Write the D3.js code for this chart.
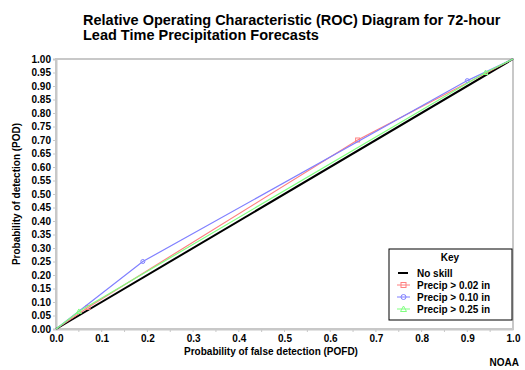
<!DOCTYPE html>
<html>
<head>
<meta charset="utf-8">
<script src="https://cdn.jsdelivr.net/npm/d3@7"></script>
<style>
  body { margin: 0; background: #fff; }
  svg { font-family: Arial, "Liberation Sans", sans-serif; }
  text { font-weight: bold; fill: #000; }
</style>
</head>
<body>
<div id="vis"></div>
<script>
// ROC points
const noSkillX = [0, 1];
const noSkillY = [0, 1];
const p02X = [0, 0.07, 0.66, 1];
const p02Y = [0, 0.08, 0.70, 1];
const p10X = [0, 0.19, 0.90, 1];
const p10Y = [0, 0.25, 0.92, 1];
const p25X = [0, 0.05, 0.94, 1];
const p25Y = [0, 0.065, 0.95, 1];
const xTicks = d3.range(0, 11).map(i => i / 10);
const yTicks = d3.range(0, 21).map(i => i / 20);

const series = [
  { name: "Precip > 0.02 in", xs: p02X, ys: p02Y, color: "#ff8080", marker: "square" },
  { name: "Precip > 0.10 in", xs: p10X, ys: p10Y, color: "#8080ff", marker: "circle" },
  { name: "Precip > 0.25 in", xs: p25X, ys: p25Y, color: "#80ff80", marker: "triangle" }
];

const W = 525, H = 370;
const margin = { top: 59, right: 12, bottom: 41, left: 56 };
const width = W - margin.left - margin.right;
const height = H - margin.top - margin.bottom;

const svg = d3.select("#vis").append("svg")
  .attr("width", W)
  .attr("height", H);

// title
svg.append("text").attr("x", 83).attr("y", 25)
  .style("font-size", "14.5px")
  .text("Relative Operating Characteristic (ROC) Diagram for 72-hour");
svg.append("text").attr("x", 83).attr("y", 40)
  .style("font-size", "14.5px")
  .text("Lead Time Precipitation Forecasts");

const g = svg.append("g")
  .attr("transform", `translate(${margin.left},${margin.top})`);

const x = d3.scaleLinear().domain([0, 1]).range([0, width]);
const y = d3.scaleLinear().domain([0, 1]).range([height, 0]);

// frame
g.append("rect")
  .attr("x", 0).attr("y", 0)
  .attr("width", width).attr("height", height)
  .attr("fill", "none")
  .attr("stroke", "#c8c8c8")
  .attr("stroke-width", 2);

// x axis
const xAxis = g.append("g")
  .attr("transform", `translate(0,${height})`)
  .call(d3.axisBottom(x).tickValues(xTicks).tickFormat(d3.format(".1f")).tickSize(0).tickPadding(6));
xAxis.select(".domain").attr("stroke", "#c8c8c8").attr("stroke-width", 2);
xAxis.selectAll("text").style("font-size", "10px").style("font-weight", "bold");

// minor grey ticks on x
g.append("g").selectAll("line")
  .data(d3.range(0, 20).map(i => i / 20 + 0.05).filter(v => v < 1))
  .enter().append("line")
  .attr("x1", d => x(d)).attr("x2", d => x(d))
  .attr("y1", height).attr("y2", height + 3)
  .attr("stroke", "#c8c8c8");

// y axis
const yAxis = g.append("g")
  .call(d3.axisLeft(y).tickValues(yTicks).tickFormat(d3.format(".2f")).tickSize(3).tickPadding(2));
yAxis.select(".domain").attr("stroke", "#c8c8c8").attr("stroke-width", 2);
yAxis.selectAll(".tick line").attr("stroke", "#c8c8c8");
yAxis.selectAll("text").style("font-size", "10px").style("font-weight", "bold");

// axis titles
svg.append("text")
  .attr("x", 271).attr("y", 355)
  .attr("text-anchor", "middle")
  .style("font-size", "10px")
  .text("Probability of false detection (POFD)");
svg.append("text")
  .attr("transform", `translate(20,${margin.top + height / 2}) rotate(-90)`)
  .attr("text-anchor", "middle")
  .style("font-size", "10px")
  .text("Probability of detection (POD)");

svg.append("text")
  .attr("x", 519).attr("y", 366)
  .attr("text-anchor", "end")
  .style("font-size", "10px")
  .text("NOAA");

const line = d3.line().x(d => x(d[0])).y(d => y(d[1]));

function drawMarker(sel, type, color, cx, cy, r) {
  if (type === "square") {
    sel.append("rect").attr("x", cx - r).attr("y", cy - r)
      .attr("width", 2 * r).attr("height", 2 * r)
      .attr("fill", "none").attr("stroke", color);
  } else if (type === "circle") {
    sel.append("circle").attr("cx", cx).attr("cy", cy).attr("r", r)
      .attr("fill", "none").attr("stroke", color);
  } else {
    sel.append("path")
      .attr("d", `M${cx},${cy - r - 0.5}L${cx + r + 0.5},${cy + r}L${cx - r - 0.5},${cy + r}Z`)
      .attr("fill", "none").attr("stroke", color);
  }
}

// no skill line
g.append("path")
  .datum(d3.zip(noSkillX, noSkillY))
  .attr("fill", "none")
  .attr("stroke", "#000")
  .attr("stroke-width", 2)
  .attr("d", line);

series.forEach(s => {
  const pts = d3.zip(s.xs, s.ys);
  g.append("path")
    .datum(pts)
    .attr("fill", "none")
    .attr("stroke", s.color)
    .attr("stroke-width", 1.2)
    .attr("d", line);
  pts.slice(1, -1).forEach(p => drawMarker(g, s.marker, s.color, x(p[0]), y(p[1]), 2));
});

// legend
const lg = svg.append("g").attr("transform", "translate(389,249)");
lg.append("rect")
  .attr("width", 123).attr("height", 71)
  .attr("fill", "#fff")
  .attr("stroke", "#000");
lg.append("text").attr("x", 61).attr("y", 12)
  .attr("text-anchor", "middle")
  .style("font-size", "10px")
  .text("Key");
lg.append("line")
  .attr("x1", 9).attr("x2", 19).attr("y1", 24).attr("y2", 24)
  .attr("stroke", "#000").attr("stroke-width", 2);
lg.append("text").attr("x", 28).attr("y", 28)
  .style("font-size", "10px")
  .text("No skill");
series.forEach((s, i) => {
  const yy = 36 + i * 12;
  lg.append("line")
    .attr("x1", 8).attr("x2", 21).attr("y1", yy).attr("y2", yy)
    .attr("stroke", s.color);
  drawMarker(lg, s.marker, s.color, 14.5, yy, 2.5);
  lg.append("text").attr("x", 28).attr("y", yy + 4)
    .style("font-size", "10px")
    .text(s.name);
});
</script>
</body>
</html>
